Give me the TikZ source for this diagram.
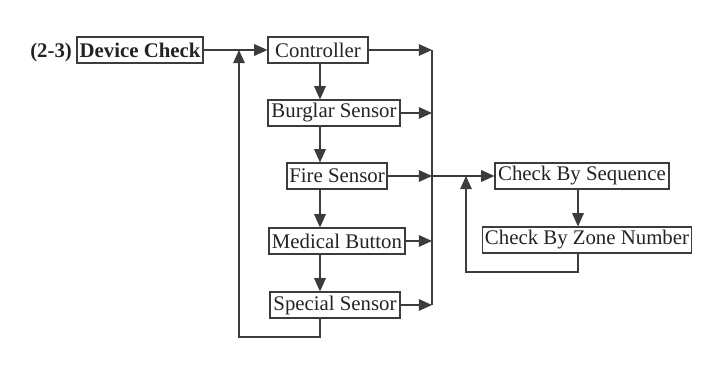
\documentclass[tikz,border=0pt]{standalone}
\usepackage{fontspec}
\setmainfont{Liberation Serif}
\usepackage{tikz}
\usetikzlibrary{positioning, arrows.meta, calc}
\definecolor{linecolor}{RGB}{60,60,60}
\definecolor{textcolor}{RGB}{35,35,35}

\begin{document}
\begin{tikzpicture}[x=0.025cm, y=-0.025cm,
    devbox/.style={rectangle, draw=linecolor, line width=0.8pt, inner xsep=1.5pt, inner ysep=1pt,
        minimum height=0.65cm, text=textcolor, font=\fontsize{14.8}{17}\selectfont},
    arrow/.style={-{Triangle[length=3.3mm, width=2.9mm]}, line width=0.9pt, draw=linecolor},
    line/.style={line width=0.9pt, draw=linecolor}
]
    \useasboundingbox (0,0) rectangle (723,365);

    % === Title ===
    \node[devbox, font=\fontsize{14.8}{17}\selectfont\bfseries, minimum width=3.15cm] (dc) at (140,50) {Device Check};
    \node[text=textcolor, font=\fontsize{14.8}{17}\selectfont\bfseries, anchor=base east, inner sep=0pt] (num) at ([xshift=-3pt]dc.base west) {(2-3)};

    % === Devices ===
    \node[devbox, minimum width=2.5cm] (ctrl) at (318,50) {Controller};
    \node[devbox, minimum width=3.3cm] (burg) at (334,113) {Burglar Sensor};
    \node[devbox, minimum width=2.5cm] (fire) at (337,176) {Fire Sensor};
    \node[devbox, minimum width=3.4cm] (med) at (337,241) {Medical Button};
    \node[devbox, minimum width=3.25cm] (spec) at (335,305) {Special Sensor};

    % === Check modes ===
    \node[devbox, minimum width=4.35cm] (cbs) at (582,176) {Check By Sequence};
    \node[devbox, minimum width=5.2cm] (cbz) at (587,240) {Check By Zone Number};

    % helper coordinates
    \coordinate (spine) at (320,0);
    \coordinate (bus) at (432,0);
    \coordinate (back) at (239,337);
    \coordinate (spine2) at (578,0);
    \coordinate (back2) at (466,272);

    % === Main chain ===
    \draw[arrow] (dc) -- (ctrl);
    \draw[arrow] (ctrl.south -| spine) -- (burg.north -| spine);
    \draw[arrow] (burg.south -| spine) -- (fire.north -| spine);
    \draw[arrow] (fire.south -| spine) -- (med.north -| spine);
    \draw[arrow] (med.south -| spine) -- (spec.north -| spine);

    % === Loop back ===
    \draw[arrow] (spec.south -| spine) |- (back) -- (back |- dc.east);

    % === Bus to check modes ===
    \foreach \dev in {ctrl, burg, fire, med, spec}
        \draw[arrow] (\dev.east) -- (\dev.east -| bus);
    \draw[line] (ctrl.east -| bus) -- (spec.east -| bus);
    \draw[arrow] (fire.east -| bus) -- (cbs.west);

    % === Check modes ===
    \draw[arrow] (cbs.south -| spine2) -- (cbz.north -| spine2);
    \draw[arrow] (cbz.south -| spine2) |- (back2) -- (back2 |- cbs.west);

\end{tikzpicture}
\end{document}
